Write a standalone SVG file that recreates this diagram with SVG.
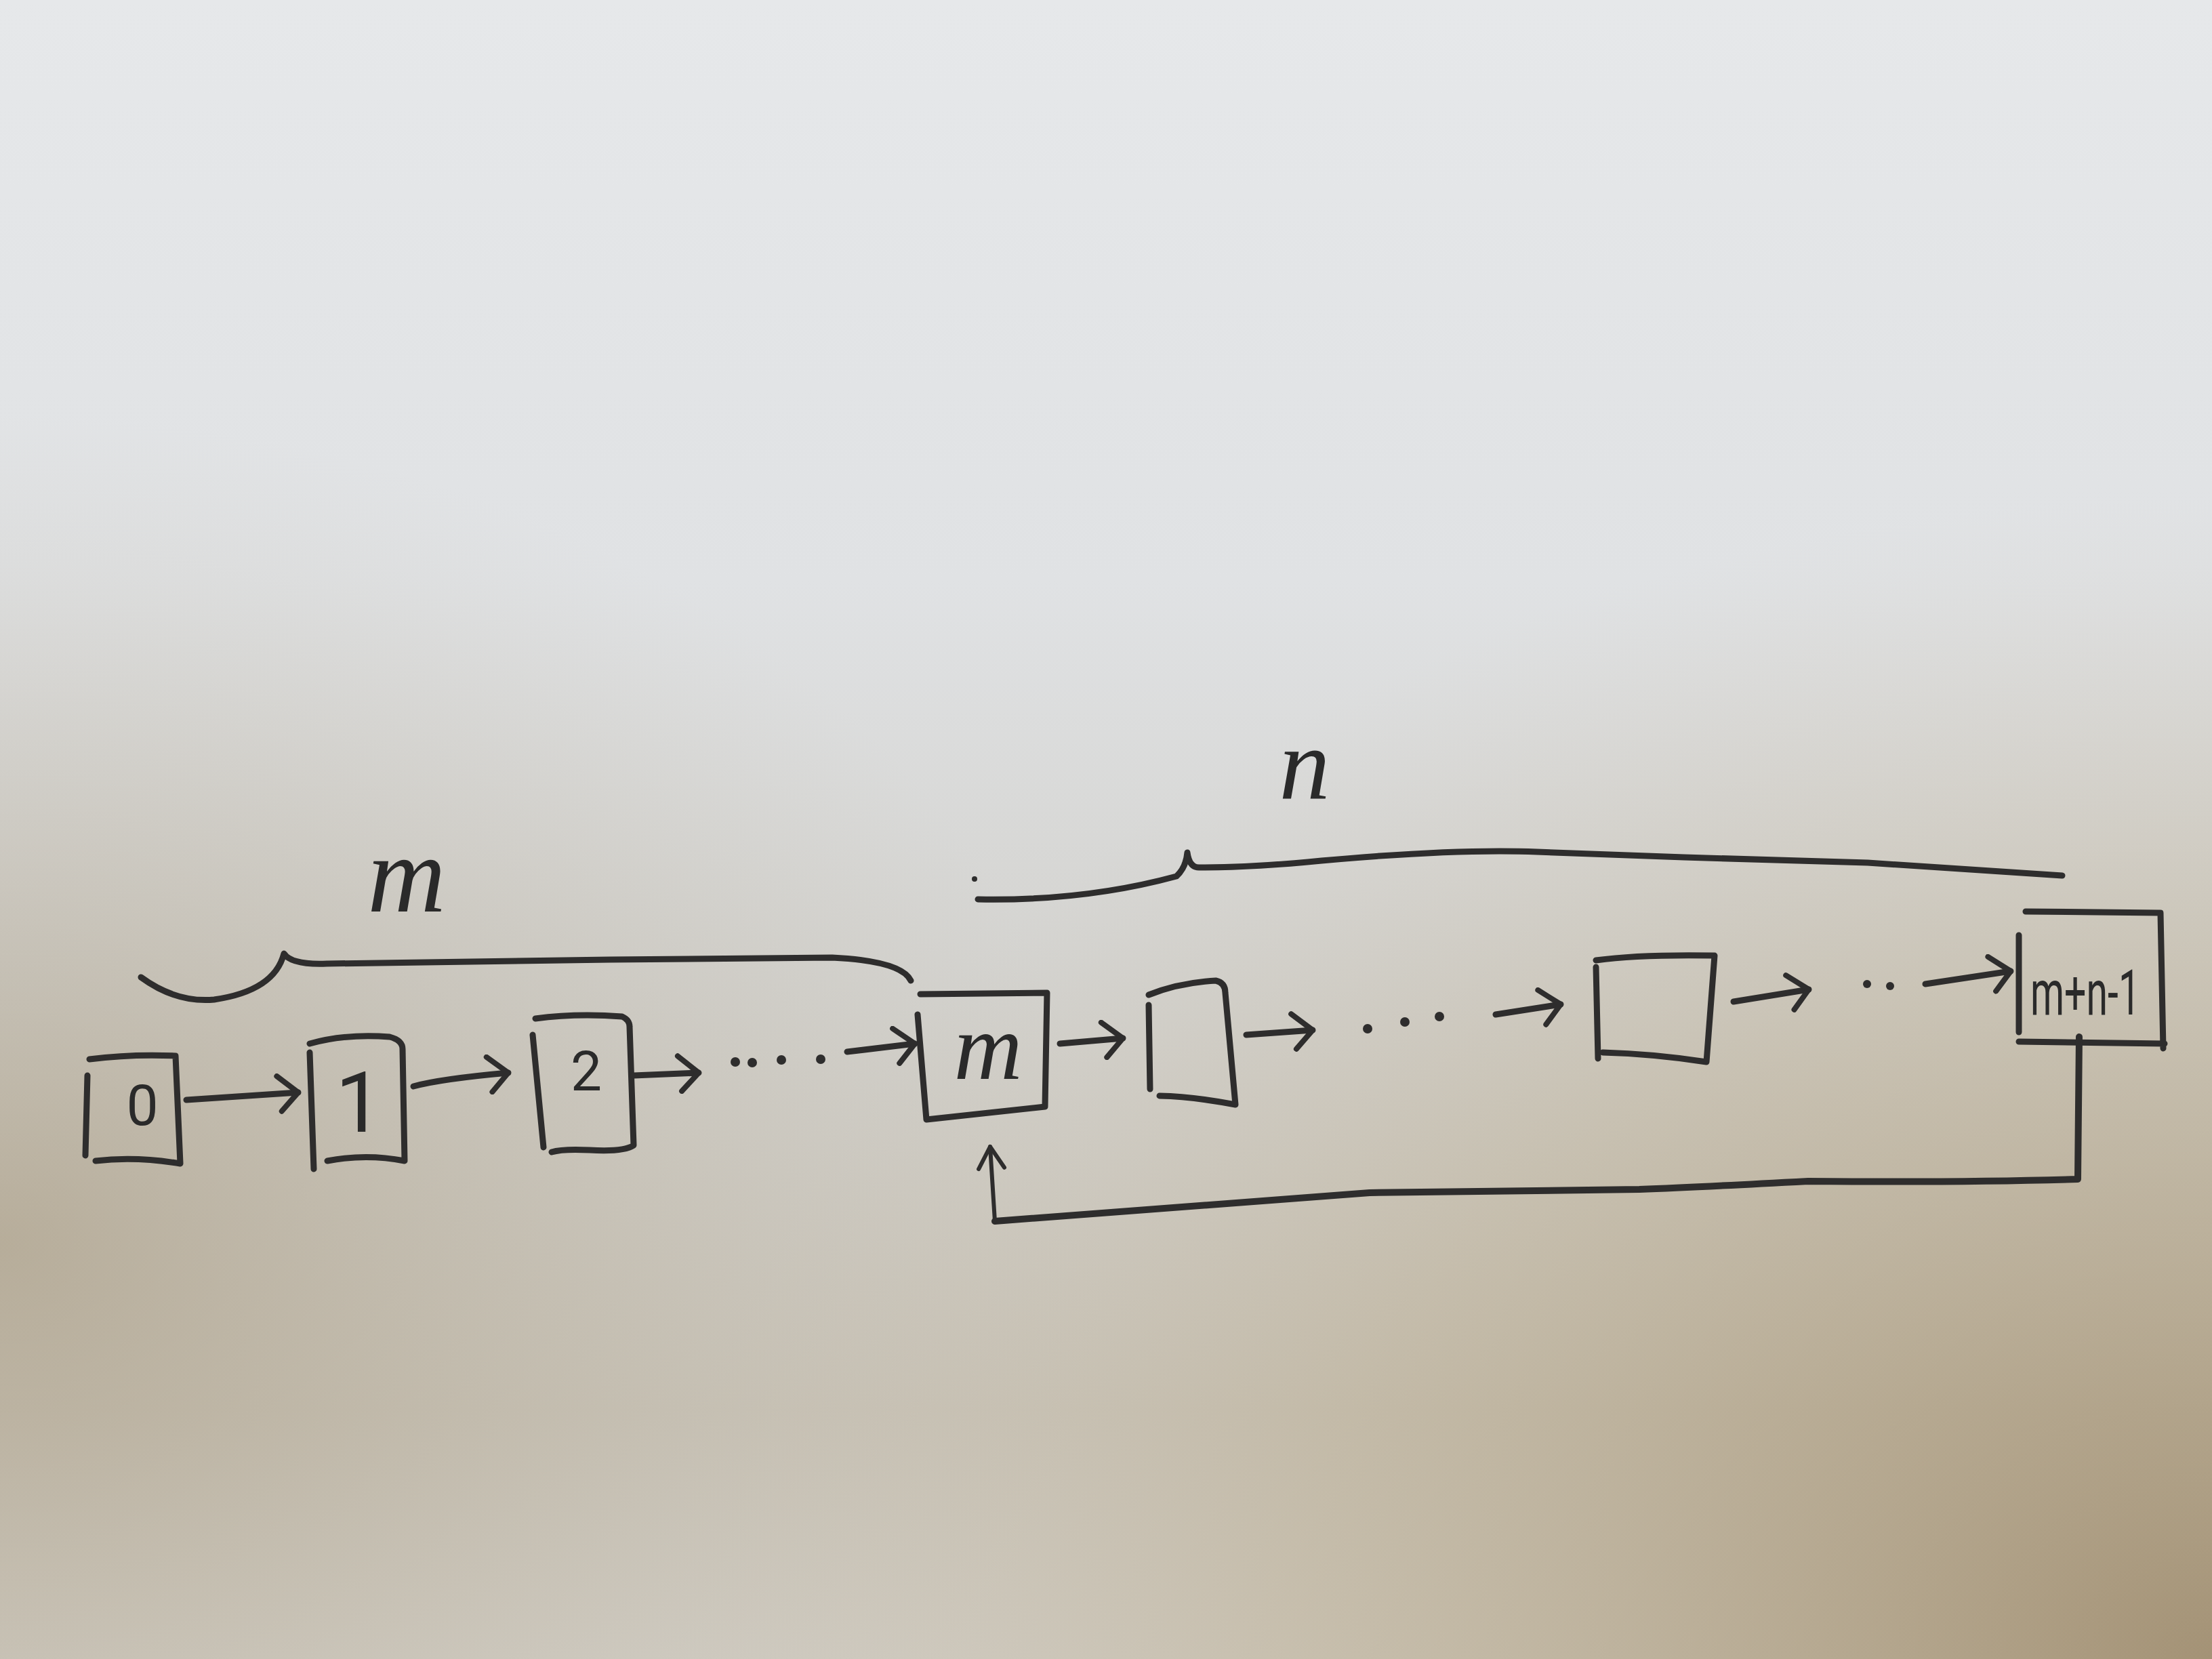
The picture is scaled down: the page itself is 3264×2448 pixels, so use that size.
<svg xmlns="http://www.w3.org/2000/svg" width="3264" height="2448" viewBox="0 0 3264 2448">
<defs>
<linearGradient id="bg" x1="0" y1="0" x2="0" y2="1">
<stop offset="0" stop-color="#e6e8ea"/>
<stop offset="0.35" stop-color="#e0e2e4"/>
<stop offset="0.6" stop-color="#d3d2ce"/>
<stop offset="0.85" stop-color="#c9c4b9"/>
<stop offset="1" stop-color="#d0ccc3"/>
</linearGradient>
<radialGradient id="tan" cx="1" cy="1" r="0.7">
<stop offset="0" stop-color="#9c8868" stop-opacity="0.85"/>
<stop offset="0.6" stop-color="#b8a888" stop-opacity="0.35"/>
<stop offset="1" stop-color="#c8bca8" stop-opacity="0"/>
</radialGradient>
<radialGradient id="tanl" cx="0" cy="0.75" r="0.5">
<stop offset="0" stop-color="#a89a80" stop-opacity="0.6"/>
<stop offset="1" stop-color="#c0b8a8" stop-opacity="0"/>
</radialGradient>
<marker id="chev" viewBox="0 0 40 60" refX="36" refY="30" markerWidth="40" markerHeight="60" markerUnits="userSpaceOnUse" orient="auto">
<path d="M6,4 L36,30 L10,56" fill="none" stroke="#2e2d2d" stroke-width="8" stroke-linecap="round" stroke-linejoin="round"/>
</marker>
<marker id="chevs" viewBox="0 0 40 50" refX="36" refY="25" markerWidth="40" markerHeight="50" markerUnits="userSpaceOnUse" orient="auto">
<path d="M4,6 L36,25 L4,44" fill="none" stroke="#2e2d2d" stroke-width="6" stroke-linecap="round" stroke-linejoin="round"/>
</marker>
</defs>
<style>
.ink{fill:none;stroke:#2e2d2d;stroke-width:9;stroke-linecap:round;stroke-linejoin:round}
.thin{fill:none;stroke:#2e2d2d;stroke-width:6;stroke-linecap:round;stroke-linejoin:round}
.arr{fill:none;stroke:#2e2d2d;stroke-width:9;stroke-linecap:round;marker-end:url(#chev)}
.lbl{font-family:"Liberation Serif",serif;font-style:italic;fill:#2a2a2a;text-anchor:middle}
.num{font-family:Roboto,"Liberation Sans",sans-serif;fill:#2a2a2a;text-anchor:middle}
.dot{fill:#2e2d2d}
</style>
<rect x="0" y="0" width="3264" height="2448" fill="url(#bg)"/>
<rect x="0" y="0" width="3264" height="2448" fill="url(#tan)"/>
<rect x="0" y="0" width="3264" height="2448" fill="url(#tanl)"/>

<g id="brace-m">
<path class="ink" d="M208,1442 Q260,1480 316,1475 Q405,1462 419,1407 Q430,1424 482,1422 L900,1416 L1228,1413 Q1330,1418 1344,1447"/>
<text class="lbl" x="600" y="1345" font-size="160">m</text>
</g>
<g id="brace-n">
<path class="ink" d="M1443,1327 Q1600,1330 1736,1293 Q1750,1280 1752,1258 Q1755,1280 1769,1280 Q1850,1280 1950,1270 Q2150,1252 2268,1257 L2485,1265 L2756,1273 L3043,1292"/>
<circle class="dot" cx="1438" cy="1297" r="4"/>
<text class="lbl" x="1925" y="1178" font-size="150">n</text>
</g>

<g id="node-0">
<path class="ink" d="M132,1563 Q195,1555 259,1558 L266,1717 Q200,1706 141,1713 M129,1587 L126,1705"/>
<text class="num" x="210" y="1660" font-size="84">0</text>
</g>
<g id="node-1">
<path class="ink" d="M457,1540 Q510,1525 575,1530 Q594,1535 594,1548 L597,1713 Q540,1702 483,1713 M457,1553 L463,1725"/>
<text class="num" x="530" y="1670" font-size="125">1</text>
</g>
<g id="node-2">
<path class="ink" d="M790,1503 Q850,1495 918,1500 Q929,1505 929,1515 L935,1690 Q920,1700 870,1697 Q830,1695 814,1700 M786,1527 L802,1693"/>
<text class="num" x="865" y="1609" font-size="82">2</text>
</g>
<g id="node-m">
<path class="ink" d="M1358,1467 L1545,1465 L1542,1633 Q1480,1640 1367,1652 L1354,1497"/>
<text class="lbl" x="1458" y="1592" font-size="140">m</text>
</g>
<g id="node-m1">
<path class="ink" d="M1695,1468 Q1740,1450 1794,1447 Q1808,1450 1808,1465 L1823,1630 Q1760,1618 1711,1617 M1695,1483 L1697,1607"/>
</g>
<g id="node-k">
<path class="ink" d="M2355,1417 Q2420,1408 2530,1410 L2518,1567 Q2440,1555 2365,1553 M2355,1427 L2358,1562"/>
</g>
<g id="node-last">
<path class="ink" d="M2989,1345 L3188,1347 L3192,1547 M2979,1380 L2979,1523 M2979,1537 L3194,1540"/>
<text class="num" x="3077" y="1497" font-size="92" textLength="162" lengthAdjust="spacingAndGlyphs">m+n-1</text>
</g>

<g id="connectors">
<path class="arr" d="M275,1623 L440,1612"/>
<path class="arr" d="M610,1603 Q650,1592 750,1583"/>
<path class="arr" d="M935,1587 L1031,1583"/>
<g>
<circle class="dot" cx="1085" cy="1567" r="7"/>
<circle class="dot" cx="1110" cy="1568" r="7"/>
<circle class="dot" cx="1153" cy="1564" r="7"/>
<circle class="dot" cx="1211" cy="1563" r="7"/>
</g>
<path class="arr" d="M1250,1552 L1350,1540"/>
<path class="arr" d="M1564,1540 L1657,1532"/>
<path class="arr" d="M1839,1527 L1937,1520"/>
<g>
<circle class="dot" cx="2018" cy="1518" r="7"/>
<circle class="dot" cx="2073" cy="1508" r="7"/>
<circle class="dot" cx="2124" cy="1500" r="7"/>
</g>
<path class="arr" d="M2207,1497 L2303,1482"/>
<path class="arr" d="M2558,1478 L2669,1460"/>
<g>
<circle class="dot" cx="2755" cy="1452" r="6"/>
<circle class="dot" cx="2789" cy="1455" r="6"/>
</g>
<path class="arr" d="M2841,1452 L2967,1433"/>
<path class="ink" d="M3068,1530 L3066,1740 Q2900,1745 2668,1743 Q2500,1752 2419,1755 Q2200,1758 2021,1760 Q1750,1780 1468,1802" style="stroke-width:10"/>
<path class="thin" d="M1468,1802 L1461,1692" style="marker-end:url(#chevs)"/>
</g>
</svg>
